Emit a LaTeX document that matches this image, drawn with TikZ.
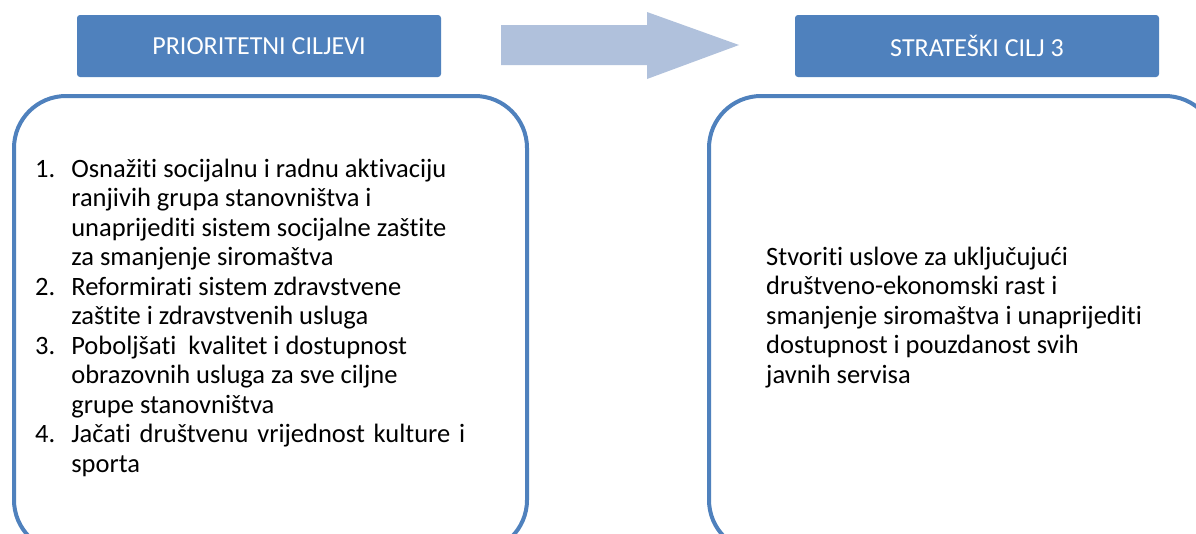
\documentclass[tikz,border=0pt]{standalone}
\usepackage{fontspec}
\setmainfont{Carlito}[Ligatures=NoCommon]
\definecolor{hdrblue}{RGB}{79,129,189}
\definecolor{arrowblue}{RGB}{176,193,220}
\tikzset{
  header/.style={fill=hdrblue, rounded corners=3pt, minimum width=364pt, minimum height=62pt, text=white, font=\fontsize{26}{29}\selectfont, inner sep=0pt},
  bigbox/.style={draw=hdrblue, line width=4pt, rounded corners=52pt, fill=white},
  bodytext/.style={font=\fontsize{26.5}{29.5}\selectfont, inner sep=0pt, anchor=base west}
}
\begin{document}
\begin{tikzpicture}[x=1pt,y=-1pt]
\useasboundingbox (0,0) rectangle (1196,533);
\fill[white] (0,0) rectangle (1196,533);
\node[header] (h1) at (259,46) {PRIORITETNI CILJEVI};
\node[header] (h2) at (977,46) {STRATEŠKI CILJ 3};
\fill[arrowblue] (501,25) -- (647,25) -- (647,12) -- (739,45) -- (647,79) -- (647,65) -- (501,65) -- cycle;
\draw[bigbox] (14,96) rectangle (527,552);
\draw[bigbox] (709,96) rectangle (1217,552);
\node[bodytext] (list) at (35,177) {%
\begin{tabular}[t]{@{}l@{\hspace{16pt}}l@{}}
1. & Osnažiti socijalnu i radnu aktivaciju\\
   & ranjivih grupa stanovništva i\\
   & unaprijediti sistem socijalne zaštite\\
   & za smanjenje siromaštva\\
2. & Reformirati sistem zdravstvene\\
   & zaštite i zdravstvenih usluga\\
3. & Poboljšati\ \ kvalitet i dostupnost\\
   & obrazovnih usluga za sve ciljne\\
   & grupe stanovništva\\
4. & \makebox[394pt][s]{Jačati društvenu vrijednost kulture i}\\
   & sporta
\end{tabular}};
\node[bodytext] (goal) at (766,265) {%
\begin{tabular}[t]{@{}l@{}}
Stvoriti uslove za uključujući\\
društveno-ekonomski rast i\\
smanjenje siromaštva i unaprijediti\\
dostupnost i pouzdanost svih\\
javnih servisa
\end{tabular}};
\end{tikzpicture}
\end{document}
